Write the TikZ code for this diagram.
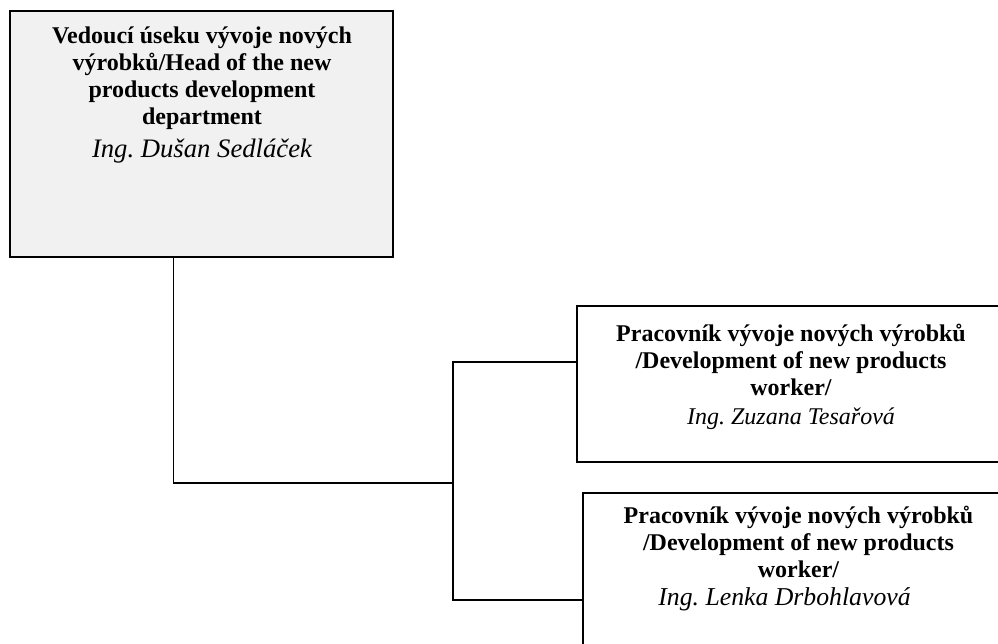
\documentclass[tikz,border=0pt]{standalone}
\usepackage{fontspec}
\setmainfont{Liberation Serif}
\usetikzlibrary{calc}
\frenchspacing
\definecolor{boxgray}{HTML}{F1F1F1}
\tikzset{
  orgbox/.style={draw=black, line width=1.5pt, rectangle, inner sep=0pt},
  boxtext/.style={align=center, inner sep=0pt, anchor=north,
    font=\fontsize{18}{20.2}\selectfont\bfseries},
  conn/.style={draw=black, line width=1pt},
}
\begin{document}
\begin{tikzpicture}[x=0.75pt,y=-0.75pt]
\useasboundingbox (0,0) rectangle (998,643);
\clip (0,0) rectangle (998,643);
\fill[white] (0,0) rectangle (998,643);
% boxes
\node[orgbox, fill=boxgray, minimum width=287.25pt, minimum height=184.5pt] (box1) at (201.5,134) {};
\node[orgbox, fill=white, minimum width=321pt, minimum height=117pt] (box2) at (791,384) {};
\node[orgbox, fill=white, minimum width=323.25pt, minimum height=125.25pt] (box3) at (798.5,576.5) {};
% texts
\node[boxtext] (t1) at (202,27) {Vedoucí úseku vývoje nových\\ výrobků/Head of the new\\ products development\\ department\\[4pt] {\fontsize{20}{22}\selectfont\mdseries\itshape Ing. Dušan Sedláček}};
\node[boxtext] (t2) at (791,324) {Pracovník vývoje nových výrobků\\ /Development of new products\\ worker/\\[1.5pt] {\fontsize{18}{20}\selectfont\mdseries\itshape Ing. Zuzana Tesařová}};
\node[boxtext] (t3) at (798.5,506) {Pracovník vývoje nových výrobků\\ /Development of new products\\ worker/\\[0.5pt] {\fontsize{19.3}{20}\selectfont\mdseries\itshape Ing. Lenka Drbohlavová\hspace*{21pt}}};
% connectors
\coordinate (jx) at (453,483);
\draw[conn] ($(box1.south west)!0.428!(box1.south east)$) |- (jx);
\draw[conn] ($(box2.north west)+(0,57)$) -| (jx) |- ($(box3.north west)+(0,108)$);
\end{tikzpicture}
\end{document}
